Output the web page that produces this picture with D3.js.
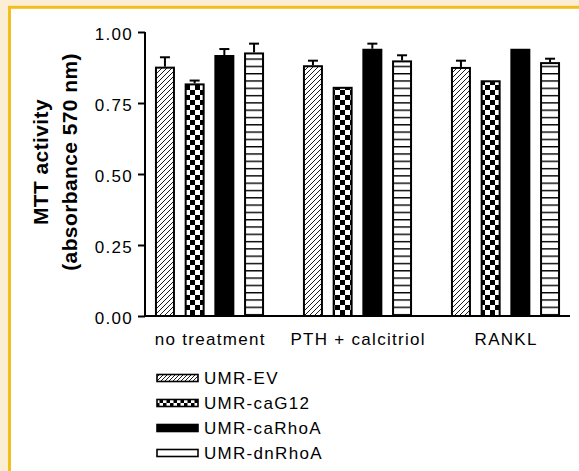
<!DOCTYPE html>
<html>
<head>
<meta charset="utf-8">
<script src="https://cdn.jsdelivr.net/npm/d3@7"></script>
<style>
  body { margin: 0; background: #fbeed5; }
  text { font-family: "Liberation Sans", Arial, sans-serif; }
</style>
</head>
<body>
<div id="chart"></div>
<script>
var groups = ["no treatment", "PTH + calcitriol", "RANKL"];
var series = ["UMR-EV", "UMR-caG12", "UMR-caRhoA", "UMR-dnRhoA"];

// mean values per series, in the order of groups
var evValues     = [0.878, 0.883, 0.877];
var caG12Values  = [0.819, 0.807, 0.830];
var caRhoAValues = [0.919, 0.941, 0.941];
var dnRhoAValues = [0.928, 0.900, 0.894];

// error (upper bar only)
var evErr     = [0.033, 0.016, 0.022];
var caG12Err  = [0.010, 0, 0];
var caRhoAErr = [0.021, 0.018, 0];
var dnRhoAErr = [0.031, 0.018, 0.012];

var yTicks = [0, 0.25, 0.5, 0.75, 1.0];

function init()
{
    const width = 579;
    const height = 471;

    var values = [evValues, caG12Values, caRhoAValues, dnRhoAValues];
    var errors = [evErr, caG12Err, caRhoAErr, dnRhoAErr];
    var fills = ["url(#hatch)", "url(#checker)", "#000", "url(#hlines)"];
    var legendFills = ["url(#hatchS)", "url(#checkerS)", "#000", "#fff"];

    var rows = [];
    groups.forEach(function(g, gi){
        series.forEach(function(s, si){
            rows.push({group: g, series: s, si: si, value: values[si][gi], err: errors[si][gi]});
        });
    });

    var svg = d3.select("#chart")
        .append("svg")
        .attr("width", width)
        .attr("height", height);

    // patterns
    var defs = svg.append("defs");
    function hatch(id, s) {
        var p = defs.append("pattern").attr("id", id)
            .attr("patternUnits", "userSpaceOnUse")
            .attr("width", s).attr("height", s);
        p.append("rect").attr("width", s).attr("height", s).attr("fill", "#fff");
        p.append("path")
            .attr("d", "M-1,1 l2,-2 M0," + s + " l" + s + ",-" + s + " M" + (s - 1) + "," + (s + 1) + " l2,-2")
            .attr("stroke", "#000").attr("stroke-width", 0.9);
    }
    function checker(id, s) {
        var p = defs.append("pattern").attr("id", id)
            .attr("patternUnits", "userSpaceOnUse")
            .attr("width", 2 * s).attr("height", 2 * s);
        p.append("rect").attr("width", 2 * s).attr("height", 2 * s).attr("fill", "#fff");
        p.append("rect").attr("width", s).attr("height", s).attr("fill", "#000");
        p.append("rect").attr("x", s).attr("y", s).attr("width", s).attr("height", s).attr("fill", "#000");
    }
    hatch("hatch", 5);
    hatch("hatchS", 4);
    checker("checker", 5);
    checker("checkerS", 3.5);
    var hl = defs.append("pattern").attr("id", "hlines")
        .attr("patternUnits", "userSpaceOnUse")
        .attr("width", 10).attr("height", 7.3);
    hl.append("rect").attr("width", 10).attr("height", 7.3).attr("fill", "#fff");
    hl.append("line").attr("x1", 0).attr("x2", 10).attr("y1", 0.7).attr("y2", 0.7)
        .attr("stroke", "#000").attr("stroke-width", 1.4);

    // frame
    svg.append("rect")
        .attr("x", 9.5).attr("y", 7.3)
        .attr("width", 600).attr("height", 500)
        .attr("fill", "#fff")
        .attr("stroke", "#f3bf1c")
        .attr("stroke-width", 3);

    var y = d3.scaleLinear().domain([0, 1]).range([316, 32]);
    var x0 = d3.scaleBand().domain(groups).range([135.5, 579.5]);
    var x1 = d3.scaleBand().domain(series).range([0, x0.bandwidth()])
        .paddingInner(0.327).paddingOuter(0.655);

    // bars
    var bars = svg.append("g");
    bars.selectAll("rect")
        .data(rows)
        .enter()
        .append("rect")
        .attr("x", function(d){ return x0(d.group) + x1(d.series) + 1; })
        .attr("y", function(d){ return y(d.value) + 1; })
        .attr("width", x1.bandwidth() - 2)
        .attr("height", function(d){ return y(0) - y(d.value) - 1; })
        .attr("fill", function(d){ return fills[d.si]; })
        .attr("stroke", "#000")
        .attr("stroke-width", 2);

    // error bars
    var errs = svg.append("g").attr("stroke", "#000").attr("stroke-width", 2);
    var withErr = rows.filter(function(d){ return d.err > 0; });
    errs.selectAll("line.v")
        .data(withErr)
        .enter()
        .append("line")
        .attr("class", "v")
        .attr("x1", function(d){ return x0(d.group) + x1(d.series) + x1.bandwidth() / 2; })
        .attr("x2", function(d){ return x0(d.group) + x1(d.series) + x1.bandwidth() / 2; })
        .attr("y1", function(d){ return y(d.value); })
        .attr("y2", function(d){ return y(d.value + d.err); });
    errs.selectAll("line.c")
        .data(withErr)
        .enter()
        .append("line")
        .attr("class", "c")
        .attr("x1", function(d){ return x0(d.group) + x1(d.series) + x1.bandwidth() / 2 - 5; })
        .attr("x2", function(d){ return x0(d.group) + x1(d.series) + x1.bandwidth() / 2 + 5; })
        .attr("y1", function(d){ return y(d.value + d.err); })
        .attr("y2", function(d){ return y(d.value + d.err); });

    // y axis
    var yAxis = svg.append("g")
        .attr("transform", "translate(145,0)")
        .call(d3.axisLeft(y).tickValues(yTicks).tickSize(7).tickPadding(5)
            .tickFormat(d3.format(".2f")));
    yAxis.select(".domain").attr("d", "M0," + y(1) + "V" + y(0)).attr("stroke-width", 2);
    yAxis.selectAll(".tick line").attr("stroke-width", 2);
    yAxis.selectAll(".tick text")
        .attr("font-size", 17)
        .attr("letter-spacing", 1.3)
        .attr("dy", "0.45em")
        .attr("fill", "#000");

    // x axis
    var xAxis = svg.append("g")
        .attr("transform", "translate(0," + y(0) + ")")
        .call(d3.axisBottom(x0).tickSize(0).tickPadding(17));
    xAxis.select(".domain").attr("d", "M145,0H570").attr("stroke-width", 2);
    xAxis.selectAll(".tick text")
        .attr("font-size", 17)
        .attr("letter-spacing", 1.3)
        .attr("dx", 0.65)
        .attr("fill", "#000");

    // y title
    var title = svg.append("text")
        .attr("transform", "translate(0,162) rotate(-90)")
        .attr("text-anchor", "middle")
        .attr("font-weight", "bold")
        .attr("font-size", 21)
        .attr("letter-spacing", 0.4);
    title.append("tspan").attr("x", 0).attr("y", 48).text("MTT  activity");
    title.append("tspan").attr("x", 0).attr("y", 77).text("(absorbance 570 nm)");

    // legend
    var legend = svg.append("g")
        .selectAll("g")
        .data(series)
        .enter()
        .append("g")
        .attr("transform", function(d, i){ return "translate(156," + (378 + i * 25) + ")"; });
    legend.append("rect")
        .attr("x", 1).attr("y", -3.5)
        .attr("width", 41).attr("height", 7)
        .attr("fill", function(d, i){ return legendFills[i]; })
        .attr("stroke", "#000")
        .attr("stroke-width", 1.6);
    legend.append("text")
        .attr("x", 48)
        .attr("dy", "0.36em")
        .attr("font-size", 17)
        .attr("letter-spacing", 1.3)
        .text(function(d){ return d; });
}

init();
</script>
</body>
</html>
